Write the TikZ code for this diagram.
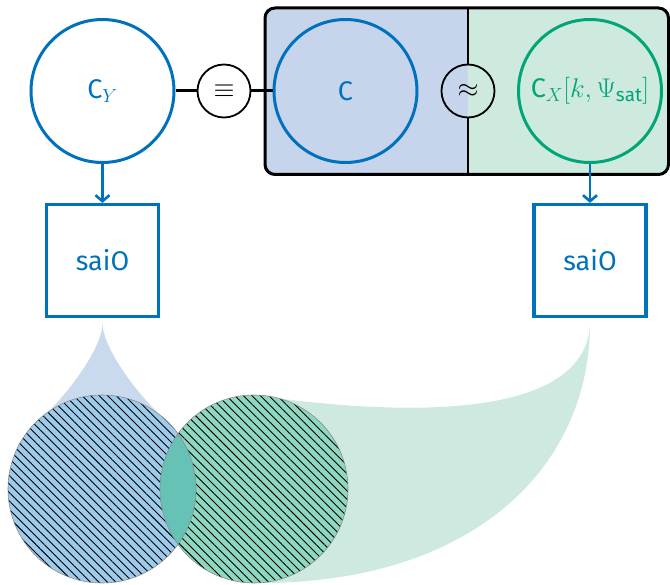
\documentclass[tikz,border=0pt]{standalone}
\usepackage{fix-cm}
\usepackage{fontspec}
\setmainfont{Fira Sans}
\setsansfont{Fira Sans}
\usetikzlibrary{arrows.meta,patterns.meta}

\definecolor{cblue}{RGB}{0,114,189}
\definecolor{cgreen}{RGB}{0,166,118}
\definecolor{panelblue}{RGB}{198,212,236}
\definecolor{panelgreen}{RGB}{206,233,222}
\definecolor{dropblue}{RGB}{201,218,238}
\definecolor{tailgreen}{RGB}{206,234,224}
\definecolor{discblue}{RGB}{158,203,235}
\definecolor{discgreen}{RGB}{142,215,192}
\definecolor{overlap}{RGB}{102,194,181}

\begin{document}
\begin{tikzpicture}[x=1pt,y=-1pt,
  every node/.style={font=\fontsize{27}{32}\selectfont},
  bigcirc/.style={circle,draw=cblue,line width=3pt,minimum size=143pt,inner sep=0pt,text=cblue},
  relcirc/.style={circle,draw=black,line width=1.8pt,minimum size=53pt,inner sep=0pt},
  outbox/.style={rectangle,draw=cblue,line width=3.2pt,minimum size=112pt,inner sep=0pt,text=cblue},
  link/.style={line width=3pt},
  divider/.style={line width=1.2pt},
  flow/.style={draw=cblue,line width=2.6pt,-{Straight Barb[length=6pt,width=14pt,line width=2.6pt]}},
  disc/.style={draw=black!45,line width=0.6pt},
  hatch/.style={postaction={pattern={Lines[angle=-45,distance=6pt,line width=0.9pt]}}}
]
\useasboundingbox (0,0) rectangle (670,585);

% split panel holding C and C_X
\coordinate (pnw) at (265,8);
\coordinate (pse) at (668.5,174.5);
\coordinate (ptop) at (468,8);
\coordinate (pbot) at (468,174.5);
\begin{scope}
  \clip[rounded corners=10pt] (pnw) rectangle (pse);
  \fill[panelblue] (pnw) rectangle (pbot);
  \fill[panelgreen] (ptop) rectangle (pse);
\end{scope}
\draw[line width=3pt,rounded corners=10pt] (pnw) rectangle (pse);

% top row of circles
\node[bigcirc] (cy) at (102.5,91) {$\mathsf{C}_Y$};
\node[relcirc,fill=white] (eq) at (224,91) {$\equiv$};
\node[bigcirc] (c) at (345.5,91) {$\mathsf{C}$};
\node[relcirc] (ap) at (468,91) {$\approx$};
\node[bigcirc,draw=cgreen,text=cgreen] (cx) at (590,91) {$\mathsf{C}_X[k,\Psi_{\mathsf{sat}}]$};

\draw[divider] (ptop) -- (ap.north);
\draw[divider] (ap.south) -- (pbot);
\draw[link] (cy.east) -- (eq.west);
\draw[link] (eq.east) -- (c.west);

% output boxes
\node[outbox] (s1) at (102.5,260.5) {saiO};
\node[outbox] (s2) at (590,260.5) {saiO};
\draw[flow] (cy.south) -- (s1.north);
\draw[flow] (cx.south) -- (s2.north);

% spreads below the boxes
\fill[dropblue] (102.5,323) .. controls (102.5,345) and (75,385) .. (48,412)
  -- (102,450) -- (157,412) .. controls (130,385) and (102.5,345) .. (102.5,323) -- cycle;
\fill[tailgreen] (590,323) .. controls (588,400) and (470,425) .. (260,396)
  -- (254,489) -- (254,583) .. controls (470,585) and (590,470) .. (590,323) -- cycle;

% hatched discs and their overlap
\path[fill=discblue,hatch] (102,489) circle[radius=94];
\path[fill=discgreen,hatch] (254,489) circle[radius=94];
\begin{scope}
  \clip (102,489) circle[radius=94];
  \fill[overlap] (254,489) circle[radius=94];
\end{scope}
\draw[disc] (102,489) circle[radius=94];
\draw[disc] (254,489) circle[radius=94];
\end{tikzpicture}
\end{document}
